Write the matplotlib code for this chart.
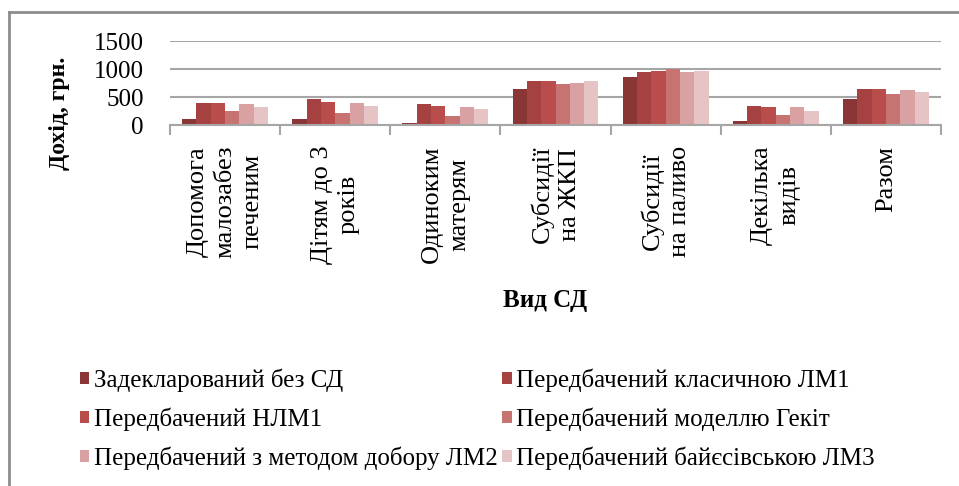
import numpy as np
import matplotlib
matplotlib.use("Agg")
from matplotlib import pyplot as plt
from matplotlib.lines import Line2D

plt.rcParams['font.family'] = 'serif'
plt.rcParams['font.serif'] = ['Liberation Serif', 'DejaVu Serif']
FONT = 'Liberation Serif'

categories = ['Допомога\nмалозабез\nпеченим', 'Дітям до 3\nроків', 'Одиноким\nматерям',
              'Субсидії\nна ЖКП', 'Субсидії\nна паливо', 'Декілька\nвидів', 'Разом']
series_names = ['Задекларований без СД', 'Передбачений класичною ЛМ1',
                'Передбачений НЛМ1', 'Передбачений моделлю Гекіт',
                'Передбачений з методом добору ЛМ2', 'Передбачений байєсівською ЛМ3']
declared = [117, 117, 46, 640, 854, 71, 463]
classic_lm1 = [392, 463, 374, 783, 943, 349, 640]
nlm1 = [392, 420, 349, 783, 966, 320, 640]
heckit = [254, 224, 165, 735, 1002, 189, 557]
selection_lm2 = [374, 392, 320, 759, 943, 320, 623]
bayes_lm3 = [320, 349, 285, 783, 966, 260, 598]
series = [declared, classic_lm1, nlm1, heckit, selection_lm2, bayes_lm3]
colors = ['#8b3636', '#a54141', '#b84d4b', '#c77372', '#d9a1a1', '#e6c3c4']

fig = plt.figure(figsize=(9.59, 4.86), dpi=100)
ax = fig.add_axes([170 / 959, 1 - 125.3 / 486, 771 / 959, 84.3 / 486])

x = np.arange(len(categories))
w = 0.13
bars = []
for i, (vals, c) in enumerate(zip(series, colors)):
    bars.append(ax.bar(x + (i - 2.5) * w, vals, width=w, color=c, label=series_names[i], zorder=2))

ax.set_xlim(-0.5, len(categories) - 0.5)
ax.set_ylim(0, 1500)
ax.set_yticks([0, 500, 1000, 1500])
ax.set_yticklabels(['0', '500', '1000', '1500'], family=FONT, fontsize=18)
ax.tick_params(axis='y', length=0, pad=19)
ax.grid(axis='y', color='#a6a6a6', linewidth=1.5, zorder=0)
for s in ['top', 'right', 'left']:
    ax.spines[s].set_visible(False)
ax.spines['bottom'].set_color('#a6a6a6')
ax.spines['bottom'].set_linewidth(1.5)

ax.set_xticks(np.arange(-0.5, len(categories), 1.0))
ax.set_xticklabels([])
ax.tick_params(axis='x', length=7, width=1.5, color='#a6a6a6')
for xi, lab in zip(x, categories):
    ax.text(xi, -0.24, lab, transform=ax.get_xaxis_transform(), rotation=90,
            ha='center', va='top', ma='center', fontsize=19, linespacing=1.3, family=FONT)

fig.text(60 / 959, 1 - 113 / 486, 'Дохід, грн.', rotation=90, ha='center', va='center',
         fontsize=17, fontweight='bold', family=FONT)
fig.text(545 / 959, 1 - 300 / 486, 'Вид СД', ha='center', va='center',
         fontsize=18, fontweight='bold', family=FONT)

order = [0, 2, 4, 1, 3, 5]
fig.legend([bars[i] for i in order], [series_names[i] for i in order],
           loc='upper left', bbox_to_anchor=(57 / 959, 1 - 346 / 486),
           ncol=2, frameon=False, prop={'family': FONT, 'size': 18},
           handlelength=0.38, handleheight=0.38,
           handletextpad=0.18, columnspacing=0.2, labelspacing=0.62)

# chart border
fig.add_artist(Line2D([8.5 / 959, 8.5 / 959], [0, 1 - 12 / 486], color='#8c8c8c', linewidth=2))
fig.add_artist(Line2D([8.5 / 959, 1], [1 - 12 / 486, 1 - 12 / 486], color='#8c8c8c', linewidth=2))

fig.savefig('out.png', dpi=100)
